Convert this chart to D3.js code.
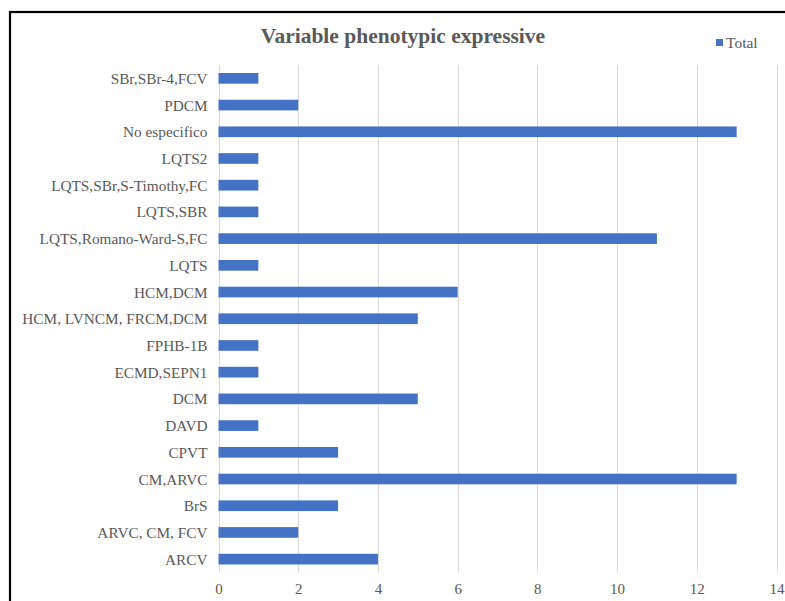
<!DOCTYPE html>
<html>
<head>
<meta charset="utf-8">
<script src="https://cdn.jsdelivr.net/npm/d3@7"></script>
<style>
  html, body { margin: 0; padding: 0; background: #fff; }
  svg { display: block; }
</style>
</head>
<body>
<svg id="chart" width="785" height="601"></svg>
<script>
// Categories listed bottom to top, as they appear on the vertical axis
const categories = [
  "ARCV",
  "ARVC, CM, FCV",
  "BrS",
  "CM,ARVC",
  "CPVT",
  "DAVD",
  "DCM",
  "ECMD,SEPN1",
  "FPHB-1B",
  "HCM, LVNCM, FRCM,DCM",
  "HCM,DCM",
  "LQTS",
  "LQTS,Romano-Ward-S,FC",
  "LQTS,SBR",
  "LQTS,SBr,S-Timothy,FC",
  "LQTS2",
  "No especifico",
  "PDCM",
  "SBr,SBr-4,FCV"
];
const totals = [4, 2, 3, 13, 3, 1, 5, 1, 1, 5, 6, 1, 11, 1, 1, 1, 13, 2, 1];
const xTicks = [0, 2, 4, 6, 8, 10, 12, 14];
const seriesName = "Total";
const title = "Variable phenotypic expressive";

const svg = d3.select("#chart");
const serif = "'Liberation Serif', 'Times New Roman', serif";
const textColor = "#595959";
const barColor = "#4472C4";

// Chart frame (right and bottom edges run past the visible area)
svg.append("rect")
  .attr("x", 10).attr("y", 12)
  .attr("width", 800).attr("height", 620)
  .attr("fill", "none").attr("stroke", "#000").attr("stroke-width", 2.2);

const plot = { left: 218.5, right: 776.5, top: 65, bottom: 572.5 };

const x = d3.scaleLinear().domain([0, 14]).range([plot.left, plot.right]);
const y = d3.scaleBand()
  .domain(categories.slice().reverse())
  .range([plot.top, plot.bottom])
  .paddingInner(0.6)
  .paddingOuter(0.3);

// Vertical gridlines
svg.append("g")
  .selectAll("line")
  .data(xTicks)
  .join("line")
  .attr("x1", d => Math.round(x(d)) + 0.5)
  .attr("x2", d => Math.round(x(d)) + 0.5)
  .attr("y1", plot.top)
  .attr("y2", plot.bottom)
  .attr("stroke", "#d9d9d9")
  .attr("stroke-width", 1);

// Bars
svg.append("g")
  .selectAll("rect")
  .data(categories.map((c, i) => ({ c, v: totals[i] })))
  .join("rect")
  .attr("x", x(0))
  .attr("y", d => y(d.c))
  .attr("width", d => x(d.v) - x(0))
  .attr("height", y.bandwidth())
  .attr("fill", barColor);

// Category axis
const yAxis = svg.append("g")
  .attr("transform", `translate(${plot.left - 11},0)`)
  .call(d3.axisLeft(y).tickSize(0).tickPadding(0));
yAxis.select(".domain").remove();
yAxis.selectAll("text")
  .attr("font-family", serif)
  .attr("font-size", 15.3)
  .attr("fill", textColor)
  .attr("dy", "0.36em");

// Value axis
const xAxis = svg.append("g")
  .attr("transform", `translate(0,${plot.bottom})`)
  .call(d3.axisBottom(x).tickValues(xTicks).tickSize(0).tickPadding(11));
xAxis.select(".domain").remove();
xAxis.selectAll("text")
  .attr("font-family", serif)
  .attr("font-size", 15)
  .attr("fill", textColor);

// Title
svg.append("text")
  .attr("x", 403).attr("y", 43)
  .attr("text-anchor", "middle")
  .attr("font-family", serif)
  .attr("font-weight", "bold")
  .attr("font-size", 21.5)
  .attr("fill", textColor)
  .text(title);

// Legend
const legend = svg.append("g").attr("transform", "translate(716,39)");
legend.append("rect")
  .attr("x", 0).attr("y", 0)
  .attr("width", 7).attr("height", 7)
  .attr("fill", barColor);
legend.append("text")
  .attr("x", 10).attr("y", 8.5)
  .attr("font-family", serif)
  .attr("font-size", 15.5)
  .attr("fill", textColor)
  .text(seriesName);
</script>
</body>
</html>
